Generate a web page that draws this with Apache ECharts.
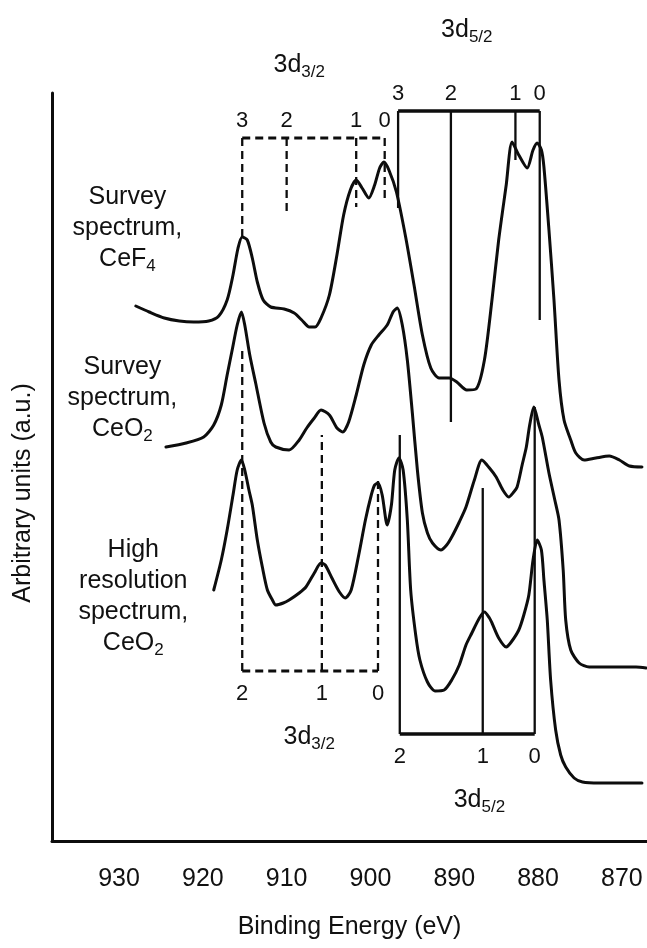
<!DOCTYPE html>
<html><head><meta charset="utf-8">
<script src="https://cdn.jsdelivr.net/npm/echarts@6/dist/echarts.min.js"></script>
<style>html,body{margin:0;padding:0;background:#fff}#c{width:647px;height:948px}</style>
</head><body><div id="c"></div>
<script>
// ---- data (binding energy eV, intensity a.u.) ----
const energyTicks = [930, 920, 910, 900, 890, 880, 870];

const surveyCeF4 = [
[928.0,53.5],[926.4,52.9],[924.6,52.3],[922.8,52.0],[921.1,51.9],[919.3,52.0],[918.1,52.5],[917.1,54.1],
[916.4,56.6],[915.8,59.3],[915.3,60.4],[914.7,60.1],[914.1,58.3],[913.5,55.9],[912.8,54.1],[911.9,53.4],
[910.3,53.2],[909.1,52.8],[908.2,52.1],[907.3,51.4],[906.6,51.4],[905.9,52.3],[904.9,54.6],[904.0,58.6],
[903.2,62.6],[902.4,65.1],[901.7,66.1],[901.0,65.3],[900.2,64.3],[899.5,65.6],[898.9,67.3],[898.4,67.9],
[897.8,67.1],[896.9,64.9],[895.8,60.4],[894.8,55.6],[893.8,50.6],[892.8,47.3],[891.8,46.3],[890.6,46.3],
[889.7,45.9],[888.5,45.1],[887.4,45.2],[886.4,48.1],[885.5,54.1],[884.7,60.1],[883.8,65.6],[883.1,69.9],
[882.3,68.6],[881.3,67.3],[880.6,69.1],[880.1,69.8],[879.6,69.1],[879.3,67.4],[878.7,61.1],[878.1,54.1],
[877.5,46.1],[876.9,42.1],[876.1,40.1],[875.5,38.8],[874.5,38.1],[873.1,38.3],[871.5,38.5],[870.3,38.1],
[869.1,37.5],[867.6,37.4]
];

const surveyCeO2 = [
[924.4,39.4],[922.0,39.8],[919.9,40.4],[918.7,41.6],[917.8,43.6],[917.1,46.6],[916.5,49.1],[915.9,51.6],
[915.4,52.9],[915.0,51.6],[914.4,48.6],[913.7,45.8],[912.7,41.8],[911.9,39.9],[911.3,39.4],[909.7,39.1],
[908.5,40.1],[907.6,41.3],[906.7,42.3],[905.9,43.1],[904.9,42.6],[904.0,41.3],[903.3,40.9],[902.6,41.9],
[901.7,44.6],[900.8,47.6],[899.9,49.6],[899.0,50.6],[898.0,51.6],[897.3,52.9],[896.8,53.3],[896.2,51.6],
[895.6,48.1],[895.0,42.8],[894.4,37.1],[893.8,32.8],[893.2,30.8],[892.6,29.8],[891.6,29.1],[890.9,29.6],
[890.3,30.4],[889.4,31.9],[888.6,33.4],[887.6,36.1],[886.7,38.1],[885.8,37.3],[885.0,36.4],[884.2,35.1],
[883.5,34.4],[882.9,34.9],[882.5,35.4],[881.9,37.6],[881.4,39.4],[881.0,41.6],[880.5,43.4],[879.9,41.6],
[879.5,40.4],[878.7,36.8],[878.0,34.1],[877.5,32.1],[877.0,27.1],[876.7,22.1],[876.1,19.1],[875.1,17.8],
[873.9,17.4],[871.5,17.4],[868.3,17.4],[867.1,17.3]
];

const highResCeO2 = [
[918.7,25.1],[917.8,28.1],[917.1,31.1],[916.4,34.6],[915.9,37.1],[915.4,38.1],[915.0,37.1],[914.5,35.1],
[914.1,33.6],[913.5,30.1],[912.9,27.4],[912.3,25.1],[911.7,24.1],[911.3,23.6],[910.4,23.8],[909.7,24.1],
[908.5,24.8],[907.7,25.4],[906.7,26.8],[905.9,27.8],[905.4,27.6],[904.6,26.3],[903.7,24.9],[903.0,24.3],
[902.3,25.1],[901.4,28.6],[900.6,32.1],[899.9,34.6],[899.5,35.6],[899.1,35.8],[898.6,34.6],[898.0,31.6],
[897.5,33.6],[897.1,37.1],[896.6,38.3],[896.1,37.1],[895.6,32.1],[895.2,25.1],[894.6,20.6],[894.1,18.1],
[893.2,15.9],[892.3,15.0],[891.2,15.1],[890.3,16.1],[889.4,17.6],[888.6,19.6],[887.9,20.8],[887.0,22.3],
[886.4,22.9],[885.8,22.3],[885.5,21.8],[884.7,20.3],[883.8,19.4],[883.2,19.9],[882.3,21.1],[881.7,22.6],
[881.1,24.6],[880.6,28.1],[880.1,30.1],[879.6,29.1],[879.3,26.1],[878.9,22.1],[878.5,16.1],[877.9,11.1],
[877.3,8.6],[876.7,7.4],[875.7,6.3],[874.7,5.9],[872.7,5.8],[870.3,5.8],[867.6,5.8]
];

// peak assignment brackets
const d32UpperPeaks = [915.3, 910.0, 901.7, 898.3];
const d32UpperTips  = [60.4, 62.9, 63.4, 63.9];
const d32UpperNames = ['3', '2', '1', '0'];
const d32UpperLevel = 70.3;

const d52UpperPeaks = [896.7, 890.4, 882.7, 879.8];
const d52UpperTips  = [63.3, 41.9, 68.1, 52.1];
const d52UpperNames = ['3', '2', '1', '0'];
const d52UpperLevel = 73.0;

const d32LowerPeaks = [915.3, 905.8, 899.1];
const d32LowerTips  = [49.4, 40.6, 36.0];
const d32LowerNames = ['2', '1', '0'];
const d32LowerLevel = 17.0;

const d52LowerPeaks = [896.5, 886.6, 880.4];
const d52LowerTips  = [40.6, 35.3, 43.4];
const d52LowerNames = ['2', '1', '0'];
const d52LowerLevel = 10.7;

// ---- chart ----
const FONT = '"Liberation Sans", Arial, sans-serif';
const INK = '#0d0d0d';
const TXT = '#111111';
const series = [];

function curve(data) {
  series.push({type: 'line', data: data, symbol: 'none', smooth: 0.25, silent: true,
    lineStyle: {color: INK, width: 3, join: 'round', cap: 'round', opacity: 1}, z: 4});
}
function seg(points, dashed, width) {
  series.push({type: 'line', data: points, symbol: 'none', silent: true,
    lineStyle: {color: INK, width: width, type: dashed ? [8, 5] : 'solid', cap: 'butt', opacity: 1}, z: 3});
}
function bracket(peaks, tips, level, dashed, hWidth) {
  seg([[peaks[0], level], [peaks[peaks.length - 1], level]], dashed, hWidth);
  peaks.forEach((p, i) => seg([[p, level], [p, tips[i]]], dashed, 2.3));
}
function numLabels(peaks, names, level, where) {
  series.push({type: 'scatter', symbolSize: 0, silent: true, clip: false, z: 5,
    itemStyle: {opacity: 1},
    data: peaks.map((p, i) => ({value: [p, level], name: names[i]})),
    label: {show: true, position: where, distance: where === 'top' ? 6 : 12, opacity: 1,
      formatter: '{b}', color: TXT, fontSize: 22, fontFamily: FONT}});
}

curve(surveyCeF4);
curve(surveyCeO2);
curve(highResCeO2);

bracket(d32UpperPeaks, d32UpperTips, d32UpperLevel, true, 2.8);
bracket(d52UpperPeaks, d52UpperTips, d52UpperLevel, false, 3.4);
bracket(d32LowerPeaks, d32LowerTips, d32LowerLevel, true, 2.8);
bracket(d52LowerPeaks, d52LowerTips, d52LowerLevel, false, 3.4);

numLabels(d32UpperPeaks, d32UpperNames, d32UpperLevel, 'top');
numLabels(d52UpperPeaks, d52UpperNames, d52UpperLevel, 'top');
numLabels(d32LowerPeaks, d32LowerNames, d32LowerLevel, 'bottom');
numLabels(d52LowerPeaks, d52LowerNames, d52LowerLevel, 'bottom');

const richStyle = {
  m: {fontSize: 25, fontFamily: FONT, color: TXT, lineHeight: 31, verticalAlign: 'middle', opacity: 1},
  s: {fontSize: 17, fontFamily: FONT, color: TXT, lineHeight: 17, verticalAlign: 'bottom', opacity: 1}
};
const textNotes = [
  {value: [908.5, 77.6], text: '{m|3d}{s|3/2}'},
  {value: [888.5, 81.1], text: '{m|3d}{s|5/2}'},
  {value: [907.3, 10.4], text: '{m|3d}{s|3/2}'},
  {value: [887.0, 4.1],  text: '{m|3d}{s|5/2}'},
  {value: [929.0, 61.3], text: '{m|Survey}\n{m|spectrum,}\n{m|CeF}{s|4}'},
  {value: [929.6, 44.3], text: '{m|Survey}\n{m|spectrum,}\n{m|CeO}{s|2}'},
  {value: [928.3, 24.4], text: '{m|High}\n{m|resolution}\n{m|spectrum,}\n{m|CeO}{s|2}'}
];
series.push({type: 'scatter', symbolSize: 0, silent: true, clip: false, z: 6,
  itemStyle: {opacity: 1},
  data: textNotes.map(t => ({value: t.value, label: {formatter: t.text}})),
  label: {show: true, position: 'inside', align: 'center', lineHeight: 31, opacity: 1, color: TXT, rich: richStyle}});

const chart = echarts.init(document.getElementById('c'), null, {renderer: 'canvas'});
chart.setOption({
  animation: false,
  backgroundColor: '#fff',
  grid: {left: 52, right: 0, top: 93, bottom: 107},
  xAxis: {
    type: 'value', inverse: true, min: 867, max: 938,
    name: 'Binding Energy (eV)', nameLocation: 'middle', nameGap: 74,
    nameTextStyle: {fontSize: 25, fontFamily: FONT, color: TXT},
    axisLine: {show: true, onZero: false, lineStyle: {color: INK, width: 3}},
    axisTick: {show: false},
    axisLabel: {customValues: energyTicks, margin: 26, fontSize: 25, fontFamily: FONT, color: TXT},
    splitLine: {show: false}
  },
  yAxis: {
    type: 'value', min: 0, max: 74.8,
    name: 'Arbitrary units (a.u.)', nameLocation: 'middle', nameGap: 16,
    nameTextStyle: {fontSize: 25, fontFamily: FONT, color: TXT, padding: [0, 52, 0, 0]},
    axisLine: {show: true, onZero: false, lineStyle: {color: INK, width: 3}},
    axisTick: {show: false}, axisLabel: {show: false}, splitLine: {show: false}
  },
  series: series
});
</script>
</body></html>
